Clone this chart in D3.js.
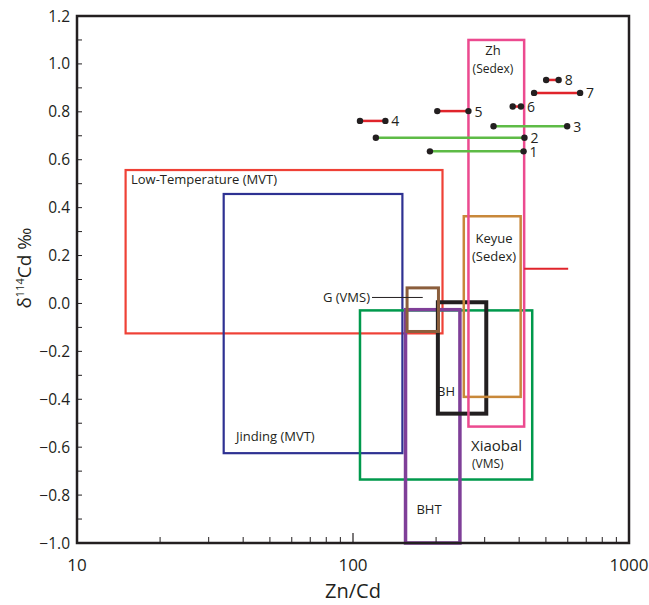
<!DOCTYPE html>
<html>
<head>
<meta charset="utf-8">
<script src="https://cdn.jsdelivr.net/npm/d3@7"></script>
<style>
    body { margin: 0; background: #fff; }
    svg { display: block; font-family: "Open Sans", sans-serif; }
    text { fill: #231f20; }
</style>
</head>
<body>
<div id="chart"></div>
<script>
// DATA
// field boxes (Zn/Cd range, d114Cd range)
const boxNames = ["MVT", "Jinding", "Xiaobal", "BHT", "BH", "Keyue", "Zh", "G"];
const boxXmin = [15, 34, 106, 155, 203, 252, 262, 157];
const boxXmax = [211, 151, 446, 244, 304, 405, 417, 204];
const boxYmin = [-0.125, -0.625, -0.735, -1.0, -0.46, -0.39, -0.514, -0.117];
const boxYmax = [0.557, 0.457, -0.029, -0.026, 0.005, 0.364, 1.10, 0.065];

// sample ranges
const segIds = [1, 2, 3, 4, 5, 6, 7, 8];
const segXmin = [190, 121, 323, 106, 202, 379, 453, 501];
const segXmax = [415, 418, 597, 131, 262, 406, 665, 556];
const segY = [0.635, 0.692, 0.74, 0.762, 0.803, 0.822, 0.879, 0.933];
const segType = ["g", "g", "g", "r", "r", "r", "r", "r"];

// red mark off the Zh box
const zhLineX = [417, 602];
const zhLineY = 0.145;

// ticks
const xTicks = [10, 100, 1000];
const yTicks = [-1.0, -0.8, -0.6, -0.4, -0.2, 0.0, 0.2, 0.4, 0.6, 0.8, 1.0, 1.2];

// STYLES
const boxColor = {
    MVT: "#ef4136", Jinding: "#2e3192", Xiaobal: "#00994c", BHT: "#7f3f98",
    BH: "#231f20", Keyue: "#c8883a", Zh: "#ec4a8f", G: "#8b5e3c"
};
const boxWidth = {
    MVT: 2.2, Jinding: 2.2, Xiaobal: 2.5, BHT: 3.5, BH: 4, Keyue: 2.5, Zh: 2.5, G: 3
};
const segColor = { g: "#5ebb46", r: "#e0242b" };
const ink = "#231f20";

// CHART
const width = 649;
const height = 605;
const margin = { top: 16, right: 20, bottom: 62, left: 77 };

const svg = d3.select("#chart")
    .append("svg")
        .attr("width", width)
        .attr("height", height);

const x = d3.scaleLog()
    .domain([10, 1000])
    .range([margin.left, width - margin.right]);
const y = d3.scaleLinear()
    .domain([-1.0, 1.2])
    .range([height - margin.bottom, margin.top]);

// boxes
svg.append("g")
    .selectAll("rect")
    .data(boxNames)
    .join("rect")
        .attr("x", (d, i) => x(boxXmin[i]))
        .attr("y", (d, i) => y(boxYmax[i]))
        .attr("width", (d, i) => x(boxXmax[i]) - x(boxXmin[i]))
        .attr("height", (d, i) => y(boxYmin[i]) - y(boxYmax[i]))
        .attr("fill", "none")
        .attr("stroke", d => boxColor[d])
        .attr("stroke-width", d => boxWidth[d]);

// red line off Zh
svg.append("line")
    .attr("x1", x(zhLineX[0]))
    .attr("x2", x(zhLineX[1]))
    .attr("y1", y(zhLineY))
    .attr("y2", y(zhLineY))
    .attr("stroke", "#e0242b")
    .attr("stroke-width", 2);

// G (VMS) leader
const gi = boxNames.indexOf("G");
const gy = y(0.025);
svg.append("line")
    .attr("x1", 372)
    .attr("x2", (x(boxXmin[gi]) + x(boxXmax[gi])) / 2)
    .attr("y1", gy)
    .attr("y2", gy)
    .attr("stroke", ink)
    .attr("stroke-width", 1);

// box labels
const labels = [
    { t: "Low-Temperature (MVT)", x: 131, y: 184, s: 13, a: "start" },
    { t: "Jinding (MVT)", x: 236, y: 441, s: 13, a: "start" },
    { t: "G (VMS)", x: 370, y: gy + 4.5, s: 13, a: "end" },
    { t: "Zh", x: 493, y: 55, s: 13, a: "middle" },
    { t: "(Sedex)", x: 493, y: 73, s: 12, a: "middle" },
    { t: "Keyue", x: 494, y: 243, s: 13, a: "middle" },
    { t: "(Sedex)", x: 494, y: 261, s: 13, a: "middle" },
    { t: "BH", x: 437, y: 396, s: 13, a: "start" },
    { t: "Xiaobal", x: 471, y: 451, s: 15, a: "start" },
    { t: "(VMS)", x: 472, y: 468, s: 12, a: "start" },
    { t: "BHT", x: 429, y: 514, s: 13, a: "middle" }
];
svg.append("g")
    .selectAll("text")
    .data(labels)
    .join("text")
        .attr("x", d => d.x)
        .attr("y", d => d.y)
        .attr("font-size", d => d.s)
        .attr("text-anchor", d => d.a)
        .text(d => d.t);

// sample segments
const seg = svg.append("g")
    .selectAll("g")
    .data(segIds)
    .join("g");

seg.append("line")
    .attr("x1", (d, i) => x(segXmin[i]))
    .attr("x2", (d, i) => x(segXmax[i]))
    .attr("y1", (d, i) => y(segY[i]))
    .attr("y2", (d, i) => y(segY[i]))
    .attr("stroke", (d, i) => segColor[segType[i]])
    .attr("stroke-width", 2.5);

seg.selectAll("circle")
    .data((d, i) => [[segXmin[i], segY[i]], [segXmax[i], segY[i]]])
    .join("circle")
        .attr("cx", d => x(d[0]))
        .attr("cy", d => y(d[1]))
        .attr("r", 3.2)
        .attr("fill", ink);

seg.append("text")
    .attr("x", (d, i) => x(segXmax[i]) + 6)
    .attr("y", (d, i) => y(segY[i]) + 5.5)
    .attr("font-size", 14)
    .text(d => d);

// AXES
const minorX = [];
[10, 100].forEach(dec => d3.range(2, 10).forEach(k => minorX.push(dec * k)));
const minorY = d3.range(-10, 13).map(v => v / 10);

const frame = svg.append("g");

// x ticks, pointing in
frame.selectAll(".xminor")
    .data(minorX)
    .join("line")
        .attr("x1", d => x(d))
        .attr("x2", d => x(d))
        .attr("y1", y(-1.0))
        .attr("y2", y(-1.0) - 6)
        .attr("stroke", ink)
        .attr("stroke-width", 1);
frame.selectAll(".xmajor")
    .data(xTicks)
    .join("line")
        .attr("x1", d => x(d))
        .attr("x2", d => x(d))
        .attr("y1", y(-1.0))
        .attr("y2", y(-1.0) - 10)
        .attr("stroke", ink)
        .attr("stroke-width", 1.2);

// y ticks, pointing in
frame.selectAll(".yminor")
    .data(minorY)
    .join("line")
        .attr("x1", x(10))
        .attr("x2", x(10) + 5)
        .attr("y1", d => y(d))
        .attr("y2", d => y(d))
        .attr("stroke", ink)
        .attr("stroke-width", 1);

frame.append("rect")
    .attr("x", x(10))
    .attr("y", y(1.2))
    .attr("width", x(1000) - x(10))
    .attr("height", y(-1.0) - y(1.2))
    .attr("fill", "none")
    .attr("stroke", ink)
    .attr("stroke-width", 2.5);

// tick labels
svg.append("g")
    .selectAll("text")
    .data(xTicks)
    .join("text")
        .attr("x", d => x(d))
        .attr("y", y(-1.0) + 28)
        .attr("text-anchor", "middle")
        .attr("font-size", 17)
        .text(d => d);

svg.append("g")
    .selectAll("text")
    .data(yTicks)
    .join("text")
        .attr("x", x(10) - 7)
        .attr("y", d => y(d) + 5.5)
        .attr("text-anchor", "end")
        .attr("font-size", 15.5)
        .text(d => d3.format(".1f")(d).replace("-", "\u2212"));

// axis titles
svg.append("text")
    .attr("x", (x(10) + x(1000)) / 2)
    .attr("y", 598)
    .attr("text-anchor", "middle")
    .attr("font-size", 20)
    .text("Zn/Cd");

const yTitle = svg.append("text")
    .attr("transform", `translate(31, 268) rotate(-90)`)
    .attr("text-anchor", "middle")
    .attr("font-size", 19);
yTitle.append("tspan").text("\u03b4");
yTitle.append("tspan").attr("font-size", 11).attr("dy", -7).text("114");
yTitle.append("tspan").attr("dy", 7).text("Cd \u2030");
</script>
</body>
</html>
